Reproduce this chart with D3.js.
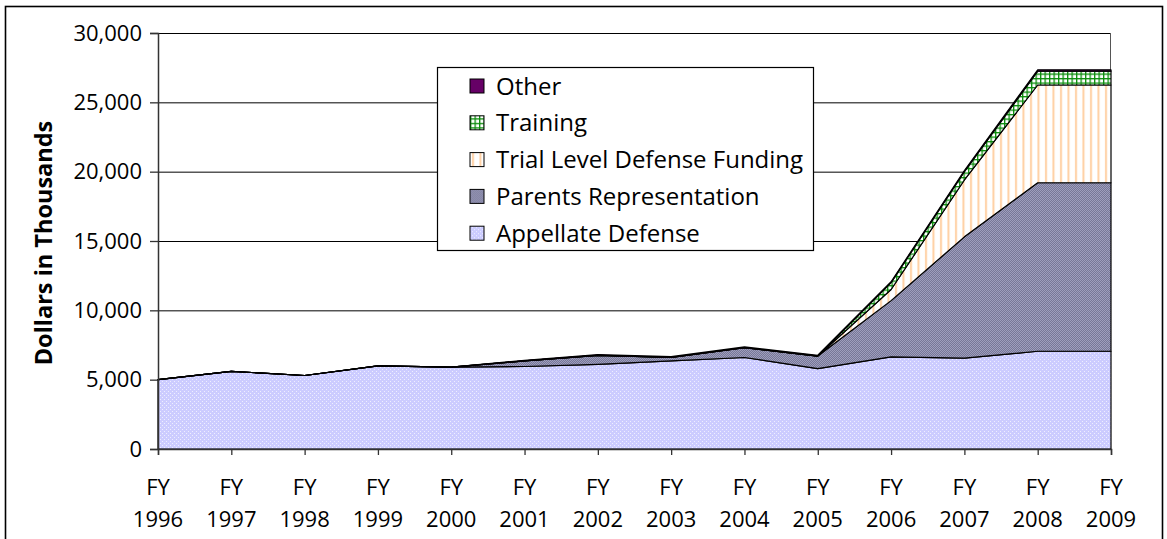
<!DOCTYPE html>
<html>
<head>
<meta charset="utf-8">
<script src="https://cdn.jsdelivr.net/npm/d3@7"></script>
<style>
  body { margin: 0; background: #fff; }
  svg text { font-family: "Open Sans", "Noto Sans", sans-serif; fill: #000; }
</style>
</head>
<body>
<svg id="chart" width="1167" height="539"></svg>
<script>
// data, dollars in thousands
const years = ["1996","1997","1998","1999","2000","2001","2002","2003","2004","2005","2006","2007","2008","2009"];
const appellate = [5000, 5600, 5300, 6000, 5900, 5950, 6100, 6350, 6600, 5800, 6650, 6550, 7050, 7050];
const parents   = [0, 0, 0, 0, 0, 400, 650, 250, 700, 900, 4050, 8750, 12150, 12150];
const trial     = [0, 0, 0, 0, 0, 0, 0, 0, 0, 0, 800, 4100, 7050, 7050];
const training  = [0, 0, 0, 0, 0, 0, 0, 0, 0, 0, 500, 600, 1000, 1000];
const other     = [0, 0, 0, 0, 0, 50, 60, 60, 60, 60, 60, 80, 100, 100];
const yTicks = [0, 5000, 10000, 15000, 20000, 25000, 30000];
const seriesNames = ["Appellate Defense", "Parents Representation", "Trial Level Defense Funding", "Training", "Other"];

const rows = years.map((y, i) => ({
    year: y,
    "Appellate Defense": appellate[i],
    "Parents Representation": parents[i],
    "Trial Level Defense Funding": trial[i],
    "Training": training[i],
    "Other": other[i]
}));

const svg = d3.select("#chart");
const margin = { top: 33, left: 158 },
    width = 953,
    height = 416;

// patterns for the fills
const defs = svg.append("defs");

const pApp = defs.append("pattern").attr("id", "p-app")
    .attr("patternUnits", "userSpaceOnUse").attr("width", 4).attr("height", 4);
pApp.append("rect").attr("width", 4).attr("height", 4).attr("fill", "#ccccff");
pApp.append("rect").attr("x", 0).attr("y", 0).attr("width", 1).attr("height", 1).attr("fill", "#eeeeff");
pApp.append("rect").attr("x", 2).attr("y", 2).attr("width", 1).attr("height", 1).attr("fill", "#eeeeff");

const pPar = defs.append("pattern").attr("id", "p-par")
    .attr("patternUnits", "userSpaceOnUse").attr("width", 2).attr("height", 2);
pPar.append("rect").attr("width", 2).attr("height", 2).attr("fill", "#9e9ebd");
pPar.append("rect").attr("width", 1).attr("height", 1).attr("fill", "#777797");
pPar.append("rect").attr("x", 1).attr("y", 1).attr("width", 1).attr("height", 1).attr("fill", "#777797");

const pTrial = defs.append("pattern").attr("id", "p-trial")
    .attr("patternUnits", "userSpaceOnUse").attr("width", 7.5).attr("height", 4);
pTrial.append("rect").attr("width", 7.5).attr("height", 4).attr("fill", "#fff");
pTrial.append("rect").attr("x", 2).attr("width", 2).attr("height", 4).attr("fill", "#ffd0a3");

const pTrain = defs.append("pattern").attr("id", "p-train")
    .attr("patternUnits", "userSpaceOnUse").attr("width", 4.5).attr("height", 4.5);
pTrain.append("rect").attr("width", 4.5).attr("height", 4.5).attr("fill", "#fff");
pTrain.append("rect").attr("width", 1.3).attr("height", 4.5).attr("fill", "#0c8c0c");
pTrain.append("rect").attr("width", 4.5).attr("height", 1.3).attr("fill", "#0c8c0c");

const fills = {
    "Appellate Defense": "url(#p-app)",
    "Parents Representation": "url(#p-par)",
    "Trial Level Defense Funding": "url(#p-trial)",
    "Training": "url(#p-train)",
    "Other": "#660066"
};

// outer border
svg.append("rect")
    .attr("x", 5.5).attr("y", 6.5)
    .attr("width", 1157).attr("height", 560)
    .attr("fill", "none").attr("stroke", "#000").attr("stroke-width", 1.6);

const g = svg.append("g").attr("transform", `translate(${margin.left},${margin.top})`);

const x = d3.scalePoint().domain(years).range([0, width]).padding(0);
const y = d3.scaleLinear().domain([0, 30000]).range([height, 0]);

// gridlines
g.append("g")
    .selectAll("line")
    .data(yTicks.filter(d => d > 0))
    .join("line")
    .attr("x1", 0).attr("x2", width)
    .attr("y1", d => y(d) + 0.5).attr("y2", d => y(d) + 0.5)
    .attr("stroke", "#000").attr("stroke-width", 1);

// right edge of plot
g.append("line")
    .attr("x1", width - 0.5).attr("x2", width - 0.5)
    .attr("y1", 0).attr("y2", height)
    .attr("stroke", "#555").attr("stroke-width", 1);

// stacked areas
const stack = d3.stack().keys(seriesNames);
const layers = stack(rows);

const area = d3.area()
    .x(d => x(d.data.year))
    .y0(d => y(d[0]))
    .y1(d => y(d[1]));

g.append("g")
    .selectAll("path")
    .data(layers)
    .join("path")
    .attr("d", area)
    .attr("fill", d => fills[d.key])
    .attr("stroke", "#000")
    .attr("stroke-width", 1.2)
    .attr("stroke-linejoin", "round");

// y axis
const yAxis = g.append("g")
    .call(d3.axisLeft(y).tickValues(yTicks).tickSize(8).tickPadding(8).tickFormat(d3.format(",")));
yAxis.select(".domain").attr("stroke", "#333").attr("stroke-width", 1.5);
yAxis.selectAll(".tick line").attr("stroke", "#333").attr("stroke-width", 1.3);
yAxis.selectAll("text").attr("font-size", 22).attr("fill", "#000")
    .attr("font-family", "'Open Sans', sans-serif");

// x axis
const xAxis = g.append("g")
    .attr("transform", `translate(0,${height})`)
    .call(d3.axisBottom(x).tickSize(6).tickFormat(""));
xAxis.select(".domain").attr("stroke", "#333").attr("stroke-width", 1.5);
xAxis.selectAll(".tick line").attr("stroke", "#333").attr("stroke-width", 1.3);

const xLabels = g.append("g").attr("transform", `translate(0,${height})`);
xLabels.selectAll("text.fy")
    .data(years)
    .join("text")
    .attr("class", "fy")
    .attr("x", d => x(d))
    .attr("y", 46)
    .attr("text-anchor", "middle")
    .attr("font-size", 22)
    .text("FY");
xLabels.selectAll("text.yr")
    .data(years)
    .join("text")
    .attr("class", "yr")
    .attr("x", d => x(d))
    .attr("y", 78)
    .attr("text-anchor", "middle")
    .attr("font-size", 22)
    .text(d => d);

// y axis title
svg.append("text")
    .attr("transform", "translate(52,243) rotate(-90)")
    .attr("text-anchor", "middle")
    .attr("font-size", 23.5)
    .attr("font-weight", "bold")
    .text("Dollars in Thousands");

// legend
const legend = svg.append("g").attr("transform", "translate(437,67)");
legend.append("rect")
    .attr("x", 0.5).attr("y", 0.5)
    .attr("width", 376).attr("height", 183)
    .attr("fill", "#fff").attr("stroke", "#000").attr("stroke-width", 1.2);

const legendItems = seriesNames.slice().reverse();
const item = legend.selectAll("g.item")
    .data(legendItems)
    .join("g")
    .attr("class", "item")
    .attr("transform", (d, i) => `translate(33,${19 + i * 36.8})`);
item.append("rect")
    .attr("x", 0).attr("y", -7)
    .attr("width", 14).attr("height", 14)
    .attr("fill", d => fills[d])
    .attr("stroke", "#000").attr("stroke-width", 1);
item.append("text")
    .attr("x", 26).attr("y", 8.5)
    .attr("font-size", 24)
    .text(d => d);
</script>
</body>
</html>
